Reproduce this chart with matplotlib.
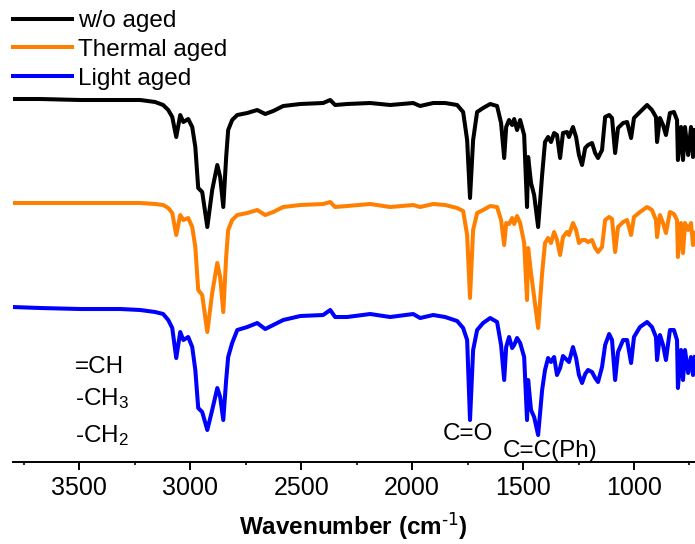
import numpy as np
import matplotlib
matplotlib.use("Agg")
import matplotlib.pyplot as plt
from matplotlib.ticker import MultipleLocator

plt.rcParams['font.family'] = ['Liberation Sans', 'DejaVu Sans']
plt.rcParams['mathtext.default'] = 'regular'

# wavenumber (cm-1)
wavenumber = [
    3800, 3676, 3495, 3315, 3225, 3158, 3122, 3099, 3081, 3063,
    3045, 3031, 3009, 2991, 2977, 2964, 2946, 2923, 2901, 2878,
    2865, 2851, 2838, 2829, 2811, 2788, 2743, 2698, 2662, 2626,
    2581, 2504, 2401, 2369, 2347, 2293, 2189, 2099, 1995, 1964,
    1905, 1851, 1797, 1770, 1752, 1739, 1725, 1707, 1680, 1648,
    1617, 1599, 1585, 1576, 1563, 1549, 1540, 1527, 1513, 1495,
    1482, 1477, 1464, 1450, 1432, 1414, 1401, 1387, 1374, 1360,
    1347, 1333, 1320, 1302, 1293, 1275, 1261, 1248, 1234, 1220,
    1207, 1189, 1175, 1162, 1144, 1130, 1112, 1099, 1085, 1072,
    1049, 1031, 1013, 1000, 973, 941, 919, 901, 896, 883,
    869, 856, 838, 820, 806, 802, 788, 779, 770, 756,
    743, 734, 725]

# transmittance (a.u.)
t_unaged = [
    100.5, 100.5, 100, 100, 100, 99, 97.5, 95, 91.5, 81.5,
    92.5, 89, 90.5, 86.5, 76.5, 56, 54, 36.5, 55, 67.5,
    61.5, 46.5, 71.5, 85, 90, 92.5, 93.5, 95, 93, 94.5,
    97, 98, 98.5, 100, 97.5, 98, 98.5, 97.5, 98.5, 97,
    98.5, 98.5, 97.5, 94, 80, 51, 80, 94, 96, 98,
    97, 88.5, 71, 86.5, 90, 87.5, 90.5, 85, 90, 82.5,
    46.5, 71.5, 58.5, 52.5, 36.5, 62.5, 79, 81.5, 79, 83.5,
    82.5, 71, 83.5, 84, 81.5, 86.5, 81.5, 72.5, 67.5, 76,
    77.5, 78.5, 73.5, 71, 75, 91.5, 92.5, 91, 73.5, 86,
    88.5, 89, 81, 91, 94, 97.5, 95, 91.5, 79, 91,
    87.5, 82.5, 93.5, 94, 90, 70, 86.5, 70, 86.5, 72.5,
    86.5, 71.5, 85]

t_thermal = [
    100, 100, 100, 100, 100, 99.5, 99, 97.5, 95, 84,
    94, 91.5, 92.5, 88, 78, 56.5, 54, 35.5, 55, 70,
    63, 45.5, 73, 86.5, 91.5, 94, 95, 96.5, 94, 95.5,
    98, 99, 99.5, 100.5, 98, 98.5, 99.5, 98, 99, 98,
    99.5, 99, 97.5, 96, 84, 52.5, 86.5, 95, 96.5, 98.5,
    98, 91.5, 79, 90, 89.5, 92.5, 89.5, 93.5, 90, 80,
    51.5, 77.5, 65, 53, 37.5, 65, 80, 82.5, 80, 85.5,
    81.5, 74, 83, 85.5, 84, 90, 86.5, 80, 81.5, 81.5,
    80.5, 81.5, 77.5, 75.5, 78, 91.5, 93, 92, 75.5, 88,
    90.5, 91.5, 84, 93, 95.5, 98, 96.5, 91.5, 83, 94,
    90, 85, 95.5, 94.5, 91.5, 73, 90, 75, 90, 86.5,
    90, 79, 85]

t_light = [
    101.5, 101, 100.5, 100.5, 100, 99, 98, 95, 91, 76,
    89, 85, 86.5, 81.5, 70, 51, 49, 40, 50, 61,
    56.5, 45, 65, 76.5, 83.5, 90, 91.5, 93.5, 90.5, 92.5,
    95, 97, 97.5, 100, 96.5, 96.5, 98, 96.5, 98, 96,
    97.5, 96.5, 94.5, 91, 85, 45, 80, 90, 93.5, 96,
    94, 82.5, 65, 81.5, 86.5, 81, 82.5, 86, 83.5, 76.5,
    45, 65, 50, 46.5, 37.5, 60, 70, 76, 74, 76.5,
    67.5, 71, 77, 75, 74, 81.5, 76, 67.5, 63.5, 68,
    70, 69, 66, 64, 71.5, 82.5, 88, 85, 65, 79,
    85, 85, 73.5, 86.5, 91.5, 94, 91.5, 86.5, 75, 87.5,
    82.5, 75, 90, 90, 85, 61, 80, 65, 80, 68.5,
    76.5, 67.5, 76.5]

labels = ["w/o aged", "Thermal aged", "Light aged"]
colors = ["#000000", "#FF8000", "#0000FF"]
offsets = [0, -51.5, -105]

fig = plt.figure(figsize=(6.95, 5.44), dpi=100)
ax = fig.add_axes([0.0183, 0.1507, 0.9817, 0.8493])

wn = np.array(wavenumber)
for t, lab, c, off in zip([t_unaged, t_thermal, t_light], labels, colors, offsets):
    ax.plot(wn, np.array(t) + off, color=c, lw=2.9, label=lab, solid_joinstyle='round')

ax.set_xlim(3800, 725)
ax.set_ylim(-81, 150)
ax.xaxis.set_major_locator(MultipleLocator(500))
ax.xaxis.set_minor_locator(MultipleLocator(250))
ax.tick_params(axis='x', which='major', length=5.8, width=1.4, labelsize=18, pad=4)
ax.tick_params(axis='x', which='minor', length=2.5, width=1.2)
ax.set_yticks([])
for s in ['top', 'right', 'left']:
    ax.spines[s].set_visible(False)
ax.spines['bottom'].set_linewidth(1.4)

ax.set_xlabel(r"Wavenumber (cm$^{\text{-1}}$)", fontsize=17.5, fontweight='bold', labelpad=8)

ax.text(3518, -36.5, "=CH", fontsize=17.5, va='baseline')
ax.text(3518, -52.5, "-CH$_3$", fontsize=17.5, va='baseline')
ax.text(3518, -71, "-CH$_2$", fontsize=17.5, va='baseline')
ax.text(1860, -70, "C=O", fontsize=17.5, va='baseline')
ax.text(1590, -78.5, "C=C(Ph)", fontsize=17.5, va='baseline')

fig.legend(loc='upper left', bbox_to_anchor=(0.0187, 0.981), frameon=False,
           fontsize=17.5, handlelength=2.43, handletextpad=0.25,
           labelspacing=0.27, borderpad=0, borderaxespad=0)

fig.savefig("out.png", dpi=100)
